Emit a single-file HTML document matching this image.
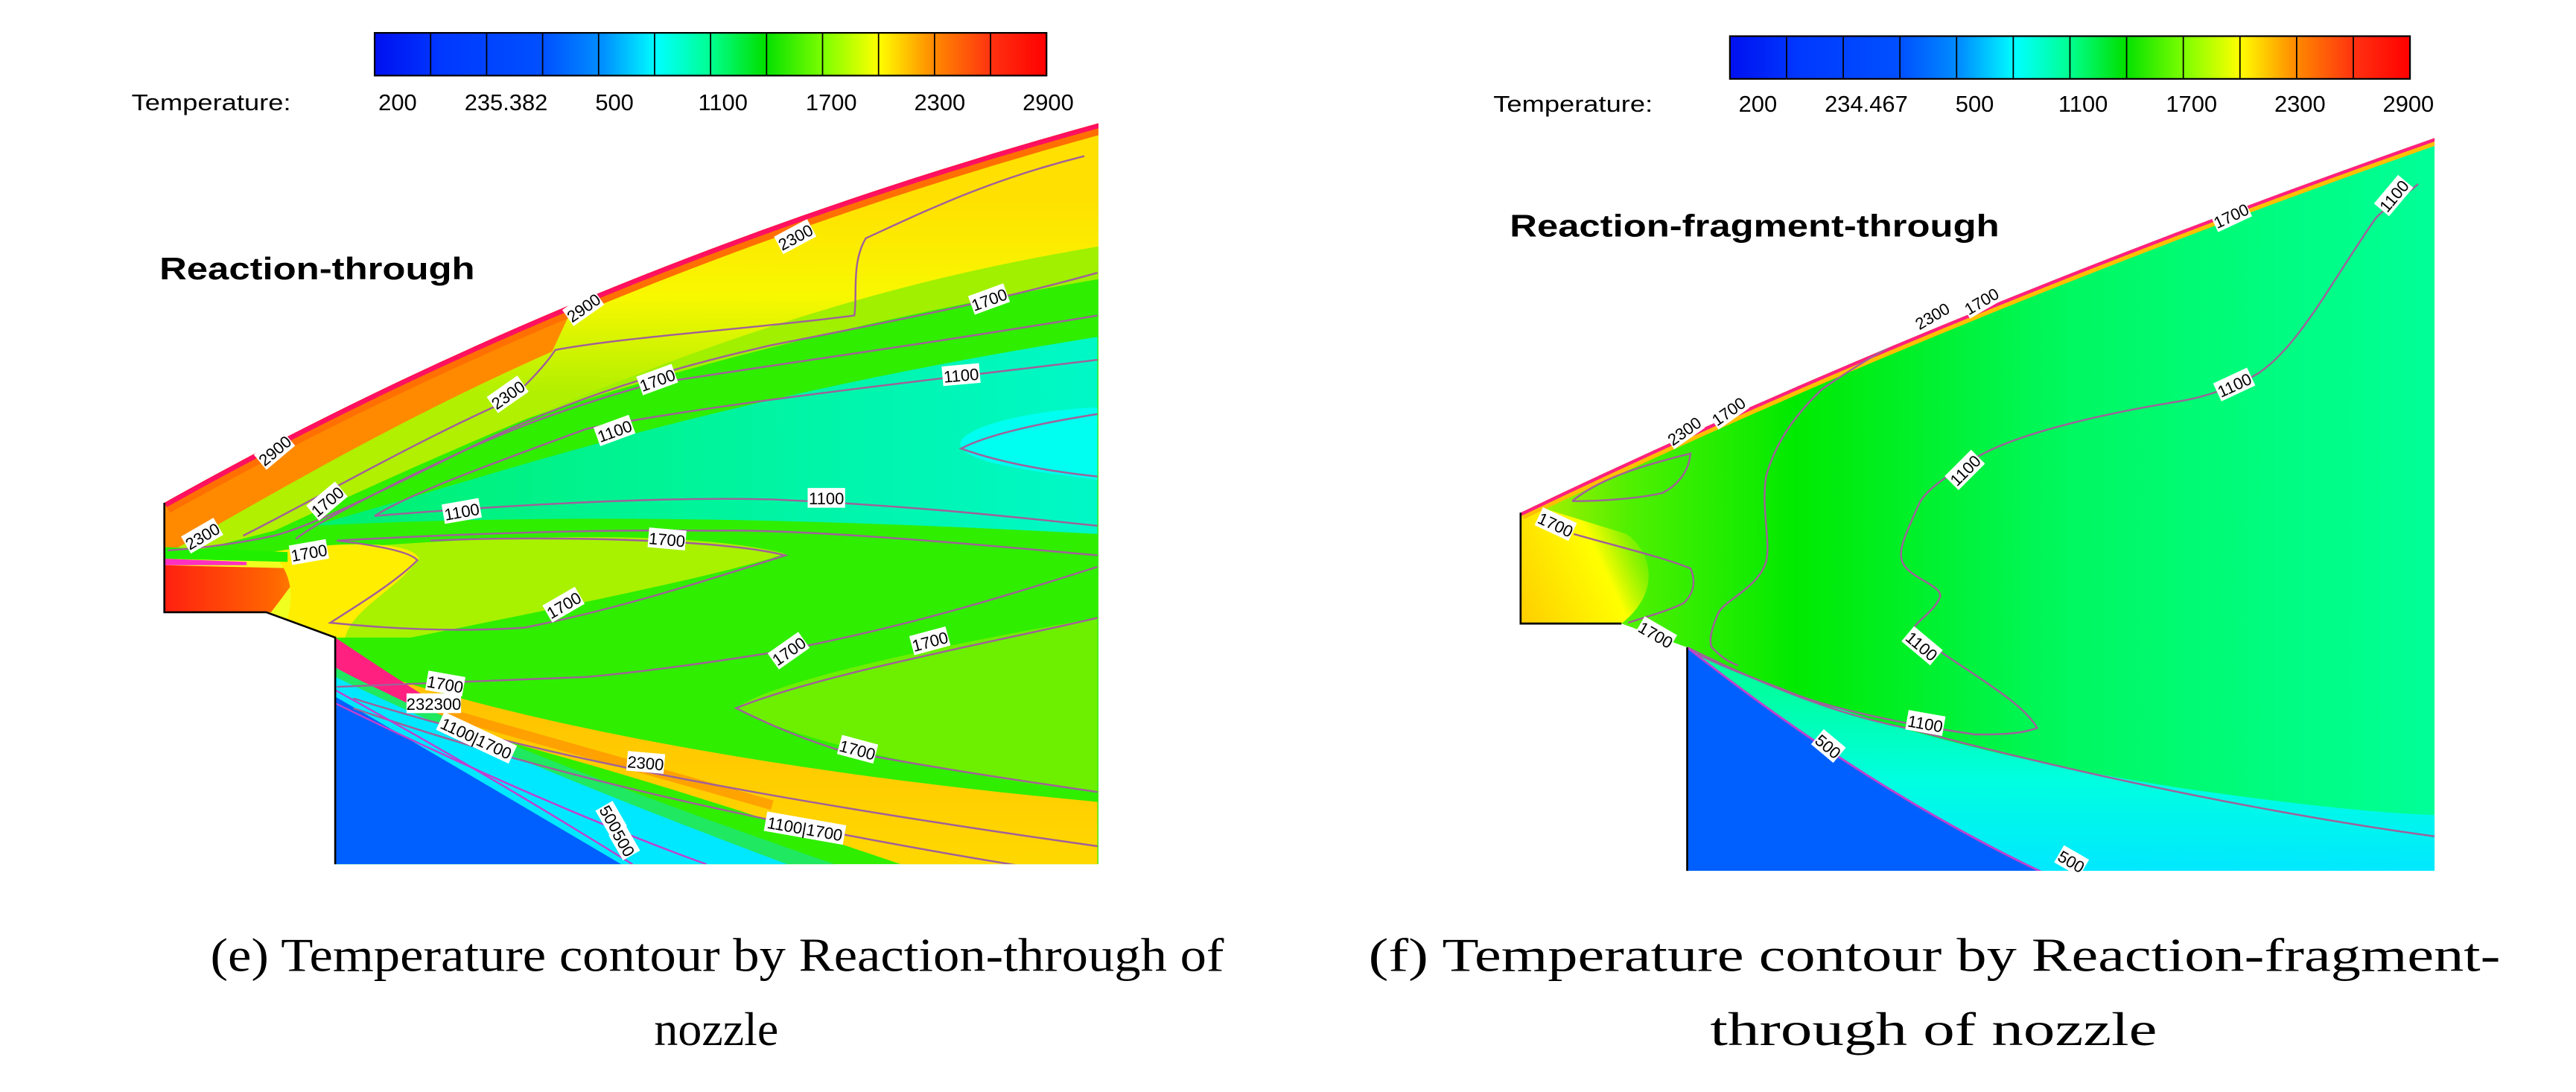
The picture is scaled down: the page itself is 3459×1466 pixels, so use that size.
<!DOCTYPE html>
<html><head><meta charset="utf-8"><style>
html,body{margin:0;padding:0;background:#fff;}
svg{display:block;}
text{font-family:"Liberation Sans",sans-serif;}
</style></head><body>
<svg id="fig" width="3459" height="1466" viewBox="0 0 1568 664.6" xmlns="http://www.w3.org/2000/svg">
<defs>
<linearGradient id="cbar" x1="0" x2="1" y1="0" y2="0">
<stop offset="0" stop-color="#0010f0"/><stop offset="0.1" stop-color="#0038ff"/><stop offset="0.25" stop-color="#0050ff"/>
<stop offset="0.34" stop-color="#0090ff"/><stop offset="0.42" stop-color="#00ffff"/><stop offset="0.5" stop-color="#00ff90"/>
<stop offset="0.58" stop-color="#00e000"/><stop offset="0.67" stop-color="#80ff00"/><stop offset="0.75" stop-color="#ffff00"/>
<stop offset="0.83" stop-color="#ff8c00"/><stop offset="0.92" stop-color="#ff3010"/><stop offset="1" stop-color="#ff0000"/>
</linearGradient>
<clipPath id="clipL"><path d="M100,306 Q360,160 668.6,75 L668.6,526 L204,526 L204,388 L162,372.6 L100,372.6 Z"/></clipPath>
<clipPath id="clipR"><path d="M925.6,312 Q1180,190 1482,84 L1482,530 L1027,530 L1027,394 L987,379.5 L925.6,379.5 Z"/></clipPath>
<linearGradient id="rBase" x1="925" x2="1482" y1="0" y2="0" gradientUnits="userSpaceOnUse">
<stop offset="0" stop-color="#b8f000"/><stop offset="0.12" stop-color="#50f000"/><stop offset="0.3" stop-color="#00ea00"/>
<stop offset="0.6" stop-color="#00f860"/><stop offset="1" stop-color="#00ff98"/>
</linearGradient>
<linearGradient id="rInlet" x1="925" x2="1010" y1="370" y2="330" gradientUnits="userSpaceOnUse">
<stop offset="0" stop-color="#ffd000"/><stop offset="0.6" stop-color="#ffff00"/><stop offset="1" stop-color="#b0f000" stop-opacity="0"/>
</linearGradient>
<linearGradient id="rCyan" x1="0" x2="0" y1="420" y2="530" gradientUnits="userSpaceOnUse">
<stop offset="0" stop-color="#00ffa0"/><stop offset="0.5" stop-color="#00ffe0"/><stop offset="1" stop-color="#00e8ff"/>
</linearGradient>
<linearGradient id="lYel" x1="0" x2="0" y1="120" y2="240" gradientUnits="userSpaceOnUse">
<stop offset="0" stop-color="#ffe000"/><stop offset="0.5" stop-color="#f8f800"/><stop offset="1" stop-color="#b0f000"/>
</linearGradient>
<linearGradient id="lTeal" x1="200" x2="668" y1="0" y2="0" gradientUnits="userSpaceOnUse">
<stop offset="0" stop-color="#00f070"/><stop offset="1" stop-color="#00f8c8"/>
</linearGradient>
<linearGradient id="lInlet" x1="100" x2="200" y1="0" y2="0" gradientUnits="userSpaceOnUse">
<stop offset="0" stop-color="#ff2010"/><stop offset="0.7" stop-color="#ff6a00"/><stop offset="1" stop-color="#ffb000"/>
</linearGradient>
<linearGradient id="lLow" x1="0" x2="0" y1="410" y2="526" gradientUnits="userSpaceOnUse">
<stop offset="0" stop-color="#ffc000"/><stop offset="1" stop-color="#ffd800"/>
</linearGradient>
</defs>

<!-- LEFT PANEL -->
<g>
<rect x="228" y="20" width="409" height="26" fill="url(#cbar)" stroke="#000" stroke-width="1"/>
<g id="cbarDivL"></g>
<text x="80" y="67" font-size="14" textLength="97" lengthAdjust="spacingAndGlyphs">Temperature:</text>
<g id="cbarLabL"></g>

<g clip-path="url(#clipL)">
<rect x="90" y="60" width="600" height="480" fill="#30ee00"/>
<path d="M100,300 Q370,160 680,70 L680,168 C560,188 440,215 320,255 L100,335 Z" fill="#a0f000"/>
<path d="M190,320 C300,290 420,245 668,205 L668,325 C500,316 350,312 190,320 Z" fill="url(#lTeal)"/>
<path d="M668,248 C620,250 580,262 585,272 C590,282 630,287 668,292 Z" fill="#00fff0"/>
<path d="M205,334 C300,326 420,322 478,337 C440,350 330,372 250,388 L205,388 Z" fill="#a8f200"/>
<path d="M668,376 C560,395 470,415 448,431 C470,445 560,470 668,482 Z" fill="#6cf000"/>
<path d="M100,306 Q360,160 668.6,75 L668.6,150 C520,175 400,215 167,323 L100,340 Z" fill="url(#lYel)"/>
<path d="M100,306 Q230,232 350,184 L336,214 C250,252 180,292 100,338 Z" fill="#ff8a00"/>
<path d="M100,340 L180,342 C200,350 220,365 205,388 L100,388 Z" fill="#f0ff20"/>
<path d="M100,344 L185,346 L165,372.6 L100,372.6 Z" fill="url(#lInlet)"/>
<path d="M165,336 C200,330 250,328 255,340 C240,360 215,370 210,388 L170,388 C180,370 180,350 165,336 Z" fill="#ffee00"/>
<path d="M100,333 L175,336 L175,342 L100,340 Z" fill="#20f000"/>
<path d="M100,340 L150,342 L150,344 L100,344 Z" fill="#ff30c0"/>
<path d="M215,405 C300,435 450,468 668,488 L668,530 L560,530 C420,482 320,452 215,428 Z" fill="url(#lLow)"/>
<path d="M240,425 C320,447 400,470 470,490" fill="none" stroke="#ff9000" stroke-width="6" opacity="0.7"/>
<path d="M204,406 C300,452 420,496 520,530 L204,530 Z" fill="#20e860"/>
<path d="M204,412 C300,458 420,504 490,530 L204,530 Z" fill="#00e8ff"/>
<path d="M204,424 C260,456 320,492 385,530 L204,530 Z" fill="#0060ff"/>
<path d="M204,388 C222,400 240,412 256,422 L250,429 C230,419 212,411 204,406 Z" fill="#ff2080"/>
<path d="M100,306 Q360,160 668.6,75" fill="none" stroke="#ff7000" stroke-width="14"/>
<path d="M100,306 Q360,160 668.6,75" fill="none" stroke="#ff1060" stroke-width="6"/>
<g fill="none" stroke="#a0609a" stroke-width="1.1">
<path d="M660,95 C600,110 560,130 527,145 C518,160 522,180 520,192 C460,200 380,205 338,213 C330,225 318,236 311,243 C250,270 190,305 148,326"/>
<path d="M668,166 C600,185 530,198 470,210 C380,230 320,255 281,275 C230,300 190,320 167,326 C140,332 115,334 102,335"/>
<path d="M668,192 C560,210 470,222 395,234 C320,255 280,275 243,293 C210,310 190,320 180,328"/>
<path d="M668,219 C560,232 440,245 357,261 C300,282 250,300 228,314 C300,308 400,302 471,304 C560,308 620,315 668,320"/>
<path d="M668,252 C630,258 600,265 585,273 C610,282 640,287 668,290"/>
<path d="M668,338 C560,328 480,322 433,323 C350,322 260,326 205,329 C230,332 250,336 254,341 C240,355 215,370 201,379 C250,384 290,384 319,382 C380,370 440,350 478,338 C440,328 330,326 262,329"/>
<path d="M668,376 C600,392 500,410 448,431 C470,442 490,450 509,456 C560,466 620,475 668,482"/>
<path d="M205,418 C260,416 300,414 357,412 C400,408 440,402 471,397 C560,380 620,360 668,345"/>
<path d="M215,425 C300,452 420,480 668,515"/>
<path d="M215,431 C300,460 420,495 640,530"/>
</g>
<g fill="none" stroke="#c040d0" stroke-width="1.1">
<path d="M204,420 C280,462 330,492 385,526"/>
<path d="M204,428 C300,475 380,508 430,526"/>
</g>
</g>
<g id="cLabL"></g>
<path d="M100,306 L100,372.6 L162,372.6 L204,388 L204,526" fill="none" stroke="#000" stroke-width="1.2"/>
<text x="97" y="170" font-size="19" font-weight="bold" textLength="192" lengthAdjust="spacingAndGlyphs">Reaction-through</text>
</g>

<!-- RIGHT PANEL -->
<g>
<rect x="1053" y="22" width="414" height="26" fill="url(#cbar)" stroke="#000" stroke-width="1"/>
<g id="cbarDivR"></g>
<text x="909" y="68" font-size="14" textLength="97" lengthAdjust="spacingAndGlyphs">Temperature:</text>
<g id="cbarLabR"></g>

<g clip-path="url(#clipR)">
<rect x="900" y="60" width="600" height="480" fill="url(#rBase)"/>
<path d="M925.6,305 L925.6,379.5 L987,379.5 C1012,360 1005,335 990,325 Z" fill="url(#rInlet)"/>
<path d="M1027,394 C1100,430 1200,460 1330,480 C1400,490 1450,495 1482,496 L1482,535 L1027,535 Z" fill="url(#rCyan)"/>
<path d="M1027,394 C1100,452 1180,502 1252,535 L1027,535 Z" fill="#0060ff"/>
<path d="M925.6,312 Q1180,190 1482,84" fill="none" stroke="#ffc000" stroke-width="9"/>
<path d="M925.6,312 Q1180,190 1482,84" fill="none" stroke="#ff2080" stroke-width="4"/>
<g fill="none" stroke="#a0609a" stroke-width="1.1">
<path d="M1472,112 C1460,122 1450,128 1446,133 C1420,170 1400,210 1375,227 C1360,236 1340,242 1328,244 C1260,255 1220,268 1202,279 C1185,290 1172,298 1168,307 C1160,325 1155,335 1158,342 C1162,352 1182,356 1181,363 C1178,372 1166,378 1164,384 C1190,405 1230,425 1240,443 C1230,447 1215,447 1202,447 C1190,445 1175,443 1160,440 C1120,432 1100,426 1084,419 C1060,410 1045,404 1033,398"/>
<path d="M1202,181 C1160,205 1130,222 1109,237 C1090,255 1080,272 1075,290 C1072,310 1078,330 1075,342 C1070,358 1050,365 1046,373 C1042,382 1040,390 1042,394 C1048,400 1052,403 1058,405"/>
<path d="M958,325 C990,334 1015,340 1029,346 C1033,355 1030,362 1025,367 C1015,372 1000,376 991,379"/>
<path d="M957,305 C975,290 1005,282 1029,276 C1028,288 1020,296 1012,300 C995,304 970,305 957,305"/>
<path d="M1027,394 C1080,420 1120,435 1160,443 C1260,470 1380,495 1482,509"/>
</g>
<path d="M1027,394 C1100,452 1180,502 1252,535" fill="none" stroke="#c040d0" stroke-width="1.3"/>
</g>
<g id="cLabR"></g>
<path d="M925.6,312 L925.6,379.5 L987,379.5 M1027,394 L1027,530" fill="none" stroke="#000" stroke-width="1.2"/>
<text x="919" y="144" font-size="19" font-weight="bold" textLength="298" lengthAdjust="spacingAndGlyphs">Reaction-fragment-through</text>
</g>

<!-- CAPTIONS -->
<g font-size="29">
<text x="128" y="591" style="font-family:'Liberation Serif',serif" textLength="617" lengthAdjust="spacingAndGlyphs">(e) Temperature contour by Reaction-through of</text>
<text x="436" y="636" text-anchor="middle" style="font-family:'Liberation Serif',serif">nozzle</text>
<text x="833" y="591" style="font-family:'Liberation Serif',serif" textLength="689" lengthAdjust="spacingAndGlyphs">(f) Temperature contour by Reaction-fragment-</text>
<text x="1177" y="636" text-anchor="middle" style="font-family:'Liberation Serif',serif" textLength="272" lengthAdjust="spacingAndGlyphs">through of nozzle</text>
</g>
</svg>
<script>
var NS = "http://www.w3.org/2000/svg";
var cbarTicksL = ["200","235.382","500","1100","1700","2300","2900"];
var cbarTicksR = ["200","234.467","500","1100","1700","2300","2900"];
var cbarTickXL = [242, 308, 374, 440, 506, 572, 638];
var cbarTickXR = [1070, 1136, 1202, 1268, 1334, 1400, 1466];
var cbarLevels = 12;
var contourTextL = ["2300","2900","2900","2300","1700","1700","1100","1100","1700","1100","1100","2300","1700","1700","1700","1700","1700","1700","232300","1100|1700","2300","1700","1100|1700","500","500"];
var contourXL = [484,355,167,309,602,400,585,374,199,281,503,123,188,406,343,480,566,271,264,290,393,522,490,372,380];
var contourYL = [144,187,274,240,182,231,228,262,305,311,303,326,336,328,368,396,390,416,428,449,464,456,504,498,513];
var contourRotL = [-28,-35,-40,-35,-20,-20,-5,-20,-40,-10,0,-30,-10,5,-30,-35,-15,10,0,25,5,15,10,60,60];
var contourTextR = ["1100","1700","1100","2300","1700","2300","1700","1100","1700","1700","1100","1100","500","500"];
var contourXR = [1457,1358,1360,1176,1206,1025,1052,1196,947,1008,1170,1172,1113,1261];
var contourYR = [119,131,234,192,183,262,250,286,319,386,393,440,454,524];
var contourRotR = [-50,-25,-25,-30,-30,-35,-35,-45,25,30,40,10,40,30];

function dividers(gid, x0, w, y0, h){
  var g = document.getElementById(gid);
  for (var i = 1; i < cbarLevels; i++){
    var l = document.createElementNS(NS, "line");
    var x = x0 + w * i / cbarLevels;
    l.setAttribute("x1", x); l.setAttribute("x2", x);
    l.setAttribute("y1", y0); l.setAttribute("y2", y0 + h);
    l.setAttribute("stroke", "#000"); l.setAttribute("stroke-width", "0.8");
    
    
    g.appendChild(l);
  }
}
function tickLabels(gid, labels, xs, y){
  var g = document.getElementById(gid);
  for (var i = 0; i < labels.length; i++){
    var t = document.createElementNS(NS, "text");
    t.setAttribute("x", xs[i]); t.setAttribute("y", y);
    t.setAttribute("font-size", "14"); t.setAttribute("text-anchor", "middle");
    t.textContent = labels[i];
    
    
    g.appendChild(t);
  }
}
function contourLabels(gid, texts, xs, ys, rots){
  var g = document.getElementById(gid);
  for (var i = 0; i < texts.length; i++){
    var grp = document.createElementNS(NS, "g");
    grp.setAttribute("transform", "translate(" + xs[i] + "," + ys[i] + ") rotate(" + rots[i] + ")");
    
    
    var w = texts[i].length * 5.2 + 2;
    var r = document.createElementNS(NS, "rect");
    r.setAttribute("x", -w/2); r.setAttribute("y", -6); r.setAttribute("width", w); r.setAttribute("height", 12);
    r.setAttribute("fill", "#fff");
    grp.appendChild(r);
    var t = document.createElementNS(NS, "text");
    t.setAttribute("x", 0); t.setAttribute("y", 4);
    t.setAttribute("font-size", "10"); t.setAttribute("text-anchor", "middle");
    t.textContent = texts[i];
    grp.appendChild(t);
    g.appendChild(grp);
  }
}
dividers("cbarDivL", 228, 409, 20, 26);
dividers("cbarDivR", 1053, 414, 22, 26);
tickLabels("cbarLabL", cbarTicksL, cbarTickXL, 67);
tickLabels("cbarLabR", cbarTicksR, cbarTickXR, 68);
contourLabels("cLabL", contourTextL, contourXL, contourYL, contourRotL);
contourLabels("cLabR", contourTextR, contourXR, contourYR, contourRotR);
</script>
</body></html>
